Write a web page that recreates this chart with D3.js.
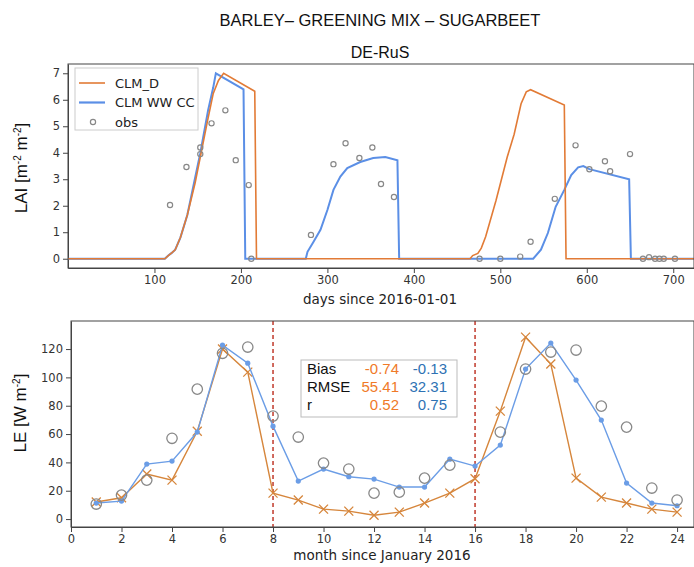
<!DOCTYPE html>
<html>
<head>
<meta charset="utf-8">
<script src="https://cdn.jsdelivr.net/npm/d3@7"></script>
<style>
body { margin: 0; background: #fff; }
text { font-family: "DejaVu Sans", sans-serif; }
.axis text { font-size: 11.5px; fill: #333; }
.axis path, .axis line { stroke: #444; }
</style>
</head>
<body>
<div id="chart"></div>
<script>
// LAI panel (days since 2016-01-01)
var lai_clm_d = [
	[0,0],[112,0],[116,0.12],[120,0.22],[124,0.34],[130,0.8],[138,1.65],[147,2.86],[153,3.84],
	[161,5.15],[168,6.24],[174,6.73],[180,7.0],[216,6.32],[218,0],[465,0],[468,0.12],[474,0.2],
	[478,0.4],[483,0.83],[495,2.2],[508,3.84],[516,4.7],[524,5.85],[530,6.3],[535,6.38],
	[574,5.8],[576,0],[724,0]
];
var lai_clm_ww_cc = [
	[0,0],[112,0],[116,0.12],[120,0.22],[124,0.34],[130,0.8],[138,1.65],[146,2.9],[153,3.98],
	[162,5.6],[168,6.47],[171,7.0],[203,6.39],[205,0],[275,0],[277,0.26],[284,0.64],[292,1.09],
	[300,1.84],[307,2.6],[315,3.1],[323,3.42],[338,3.65],[353,3.8],[367,3.84],[381,3.72],
	[383,0],[538,0],[547,0.34],[555,0.97],[564,1.96],[574,2.6],[582,3.16],[590,3.45],
	[596,3.5],[603,3.38],[649,3.0],[651,0],[724,0]
];
var lai_obs = [
	[118,2.03],[137,3.46],[153,4.2],[153,3.95],[166,5.11],[182,5.6],[194,3.72],[209,2.78],
	[212,0],[281,0.9],[307,3.57],[321,4.36],[337,3.8],[352,4.2],[362,2.82],[377,2.33],
	[476,0],[500,0],[523,0.08],[535,0.64],[563,2.26],[587,4.28],[603,3.38],[621,3.68],
	[627,3.3],[650,3.95],[665,0],[672,0.06],[679,0],[684,0],[689,0],[702,0]
];
var lai_x_ticks = [100, 200, 300, 400, 500, 600, 700];
var lai_y_ticks = [0, 1, 2, 3, 4, 5, 6, 7];

// LE panel (monthly)
var months = [1,2,3,4,5,6,7,8,9,10,11,12,13,14,15,16,17,18,19,20,21,22,23,24];
var le_clm_d = [12,15,31.8,27.5,62,120,103.7,18.3,13.4,7,5.6,2.7,4.9,11.3,18.3,28.5,76.2,128.4,109.4,28.9,15.5,11.3,7,4.9];
var le_clm_ww_cc = [11.3,12.7,38.8,40.9,61.4,122.8,110,65.6,26.8,35.3,29.9,28.2,22.6,22.6,42.3,37.4,52.2,105.9,124.2,98.1,69.9,25.4,11.3,9.4];
var le_obs = [10.6,16.9,27.5,57,91.7,117,121.4,72.7,57.9,39.5,35.3,18.3,19,28.9,38.1,null,61.4,105.9,117.9,119.3,79.7,64.9,21.9,13.4];
var le_x_ticks = [0,2,4,6,8,10,12,14,16,18,20,22,24];
var le_y_ticks = [0,20,40,60,80,100,120];
var season_breaks = [8, 16];

var stat_names = ['Bias', 'RMSE', 'r'];
var stat_clm_d = ['-0.74', '55.41', '0.52'];
var stat_clm_ww_cc = ['-0.13', '32.31', '0.75'];

var orange = '#e27b36';
var blue = '#5b8fe6';
var orange2 = '#d6863c';
var blue2 = '#6b9de6';

var width = 694, height = 567;

var svg = d3.select('#chart')
	.append('svg')
	.attr('width', width)
	.attr('height', height);

// Titles
svg.append('text')
	.attr('x', 380).attr('y', 26)
	.attr('text-anchor', 'middle')
	.style('font-family', 'Liberation Sans, Arial, sans-serif')
	.style('font-size', '16.5px')
	.attr('fill', '#111')
	.text('BARLEY– GREENING MIX – SUGARBEET');

svg.append('text')
	.attr('x', 380).attr('y', 58)
	.attr('text-anchor', 'middle')
	.style('font-family', 'Liberation Sans, Arial, sans-serif')
	.style('font-size', '16px')
	.attr('fill', '#111')
	.text('DE-RuS');

// ---------- top panel ----------
var x1 = d3.scaleLinear().domain([0, 724]).range([68, 694]);
var y1 = d3.scaleLinear().domain([-0.35, 7.35]).range([268, 64]);

var g1 = svg.append('g');

g1.append('g')
	.attr('class', 'axis')
	.attr('transform', 'translate(0,268)')
	.call(d3.axisBottom(x1).tickValues(lai_x_ticks).tickSize(5).tickPadding(3).tickSizeOuter(0));

g1.append('g')
	.attr('class', 'axis')
	.attr('transform', 'translate(68,0)')
	.call(d3.axisLeft(y1).tickValues(lai_y_ticks).tickSize(5).tickPadding(3).tickSizeOuter(0));

var line1 = d3.line()
	.x(function(d){ return x1(d[0]); })
	.y(function(d){ return y1(d[1]); });

g1.append('path')
	.datum(lai_clm_ww_cc)
	.attr('d', line1)
	.attr('fill', 'none')
	.attr('stroke', blue)
	.attr('stroke-width', 2);

g1.append('path')
	.datum(lai_clm_d)
	.attr('d', line1)
	.attr('fill', 'none')
	.attr('stroke', orange)
	.attr('stroke-width', 1.6);

g1.selectAll('circle.obs')
	.data(lai_obs)
	.enter()
	.append('circle')
	.attr('class', 'obs')
	.attr('cx', function(d){ return x1(d[0]); })
	.attr('cy', function(d){ return y1(d[1]); })
	.attr('r', 2.6)
	.attr('fill', 'none')
	.attr('stroke', '#888')
	.attr('stroke-width', 1.2);

g1.append('rect')
	.attr('x', 68).attr('y', 64)
	.attr('width', 626).attr('height', 204)
	.attr('fill', 'none')
	.attr('stroke', '#444');

// legend
var leg = g1.append('g');
leg.append('rect')
	.attr('x', 75).attr('y', 68)
	.attr('width', 123).attr('height', 62)
	.attr('fill', '#fff')
	.attr('stroke', '#ccc');
var leg_items = [
	{name: 'CLM_D', color: orange, w: 1.6},
	{name: 'CLM WW CC', color: blue, w: 2.2},
	{name: 'obs'}
];
leg_items.forEach(function(it, i){
	var yy = 83 + i * 19.5;
	if (it.color) {
		leg.append('line')
			.attr('x1', 79).attr('x2', 105)
			.attr('y1', yy).attr('y2', yy)
			.attr('stroke', it.color)
			.attr('stroke-width', it.w);
	} else {
		leg.append('circle')
			.attr('cx', 93).attr('cy', yy)
			.attr('r', 2.6)
			.attr('fill', 'none')
			.attr('stroke', '#888')
			.attr('stroke-width', 1.2);
	}
	leg.append('text')
		.attr('x', 115).attr('y', yy + 4.5)
		.style('font-size', '13px')
		.attr('fill', '#222')
		.text(it.name);
});

svg.append('text')
	.attr('x', 380).attr('y', 304)
	.attr('text-anchor', 'middle')
	.style('font-size', '13.5px')
	.attr('fill', '#222')
	.text('days since 2016-01-01');

var ylab1 = svg.append('text')
	.attr('transform', 'translate(27,168) rotate(-90)')
	.attr('text-anchor', 'middle')
	.style('font-family', 'Liberation Sans, Arial, sans-serif')
	.style('font-size', '17px')
	.attr('fill', '#111');
ylab1.append('tspan').text('LAI [m');
ylab1.append('tspan').attr('dy', -6).style('font-size', '10px').text('-2');
ylab1.append('tspan').attr('dy', 6).text(' m');
ylab1.append('tspan').attr('dy', -6).style('font-size', '10px').text('-2');
ylab1.append('tspan').attr('dy', 6).text(']');

// ---------- bottom panel ----------
var x2 = d3.scaleLinear().domain([0, 24.67]).range([71, 694]);
var y2 = d3.scaleLinear().domain([-5.6, 139.8]).range([527, 321]);

var g2 = svg.append('g');

g2.append('g')
	.attr('class', 'axis')
	.attr('transform', 'translate(0,527)')
	.call(d3.axisBottom(x2).tickValues(le_x_ticks).tickSize(5).tickPadding(3).tickSizeOuter(0));

g2.append('g')
	.attr('class', 'axis')
	.attr('transform', 'translate(71,0)')
	.call(d3.axisLeft(y2).tickValues(le_y_ticks).tickSize(5).tickPadding(3).tickSizeOuter(0));

g2.selectAll('line.brk')
	.data(season_breaks)
	.enter()
	.append('line')
	.attr('class', 'brk')
	.attr('x1', function(d){ return x2(d); })
	.attr('x2', function(d){ return x2(d); })
	.attr('y1', 321).attr('y2', 527)
	.attr('stroke', '#c0392b')
	.attr('stroke-width', 1.5)
	.attr('stroke-dasharray', '4,3');

var line2 = d3.line()
	.x(function(d, i){ return x2(months[i]); })
	.y(function(d){ return y2(d); });

g2.append('path')
	.datum(le_clm_d)
	.attr('d', line2)
	.attr('fill', 'none')
	.attr('stroke', orange2)
	.attr('stroke-width', 1.4);

g2.selectAll('path.xm')
	.data(le_clm_d)
	.enter()
	.append('path')
	.attr('class', 'xm')
	.attr('d', function(d, i){
		var cx = x2(months[i]), cy = y2(d), s = 4.5;
		return 'M' + (cx - s) + ',' + (cy - s) + 'L' + (cx + s) + ',' + (cy + s) +
			'M' + (cx - s) + ',' + (cy + s) + 'L' + (cx + s) + ',' + (cy - s);
	})
	.attr('stroke', orange2)
	.attr('stroke-width', 1.3);

g2.append('path')
	.datum(le_clm_ww_cc)
	.attr('d', line2)
	.attr('fill', 'none')
	.attr('stroke', blue2)
	.attr('stroke-width', 1.4);

g2.selectAll('circle.bm')
	.data(le_clm_ww_cc)
	.enter()
	.append('circle')
	.attr('class', 'bm')
	.attr('cx', function(d, i){ return x2(months[i]); })
	.attr('cy', function(d){ return y2(d); })
	.attr('r', 2.6)
	.attr('fill', blue2);

g2.selectAll('circle.lobs')
	.data(le_obs.map(function(v, i){ return [months[i], v]; }).filter(function(d){ return d[1] !== null; }))
	.enter()
	.append('circle')
	.attr('class', 'lobs')
	.attr('cx', function(d){ return x2(d[0]); })
	.attr('cy', function(d){ return y2(d[1]); })
	.attr('r', 5.2)
	.attr('fill', 'none')
	.attr('stroke', '#888')
	.attr('stroke-width', 1.3);

g2.append('rect')
	.attr('x', 71).attr('y', 321)
	.attr('width', 623).attr('height', 206)
	.attr('fill', 'none')
	.attr('stroke', '#444');

// stats box
var sb = g2.append('g');
sb.append('rect')
	.attr('x', 301).attr('y', 360)
	.attr('width', 156).attr('height', 57)
	.attr('fill', '#fff')
	.attr('stroke', '#bbb');
stat_names.forEach(function(n, i){
	var yy = 374 + i * 18;
	sb.append('text').attr('x', 307).attr('y', yy)
		.style('font-family', 'Liberation Sans, Arial, sans-serif')
		.style('font-size', '15px').attr('fill', '#111').text(n);
	sb.append('text').attr('x', 399).attr('y', yy)
		.attr('text-anchor', 'end')
		.style('font-family', 'Liberation Sans, Arial, sans-serif')
		.style('font-size', '15px').attr('fill', '#f07a28').text(stat_clm_d[i]);
	sb.append('text').attr('x', 447).attr('y', yy)
		.attr('text-anchor', 'end')
		.style('font-family', 'Liberation Sans, Arial, sans-serif')
		.style('font-size', '15px').attr('fill', '#2e72b4').text(stat_clm_ww_cc[i]);
});

svg.append('text')
	.attr('x', 382).attr('y', 560)
	.attr('text-anchor', 'middle')
	.style('font-size', '13.5px')
	.attr('fill', '#222')
	.text('month since January 2016');

var ylab2 = svg.append('text')
	.attr('transform', 'translate(26,413) rotate(-90)')
	.attr('text-anchor', 'middle')
	.style('font-family', 'Liberation Sans, Arial, sans-serif')
	.style('font-size', '17px')
	.attr('fill', '#111');
ylab2.append('tspan').text('LE [W m');
ylab2.append('tspan').attr('dy', -6).style('font-size', '10px').text('-2');
ylab2.append('tspan').attr('dy', 6).text(']');
</script>
</body>
</html>
